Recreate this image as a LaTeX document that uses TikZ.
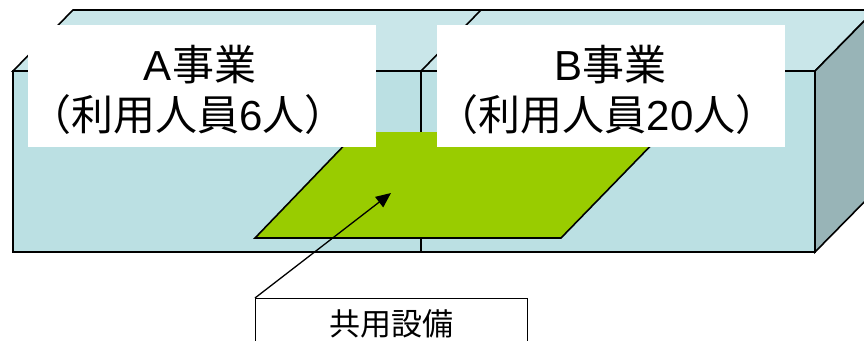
\documentclass[tikz,border=0pt]{standalone}
\usepackage{fontspec}
\setmainfont{Noto Sans CJK JP}
\newfontfamily\latn{Liberation Sans}
\usetikzlibrary{arrows.meta}
\definecolor{frontc}{HTML}{BBE0E3}
\definecolor{topc}{HTML}{C9E6E9}
\definecolor{sidec}{HTML}{98B4B7}
\definecolor{greenc}{HTML}{99CC00}
\begin{document}
\begin{tikzpicture}[x=1pt,y=-1pt,
  edge/.style={draw=black,line width=1.6pt,line join=miter},
  labelbox/.style={fill=white,draw=none,minimum width=348pt,minimum height=122pt,inner sep=0pt},
  bigtext/.style={font=\fontsize{42}{50}\selectfont,inner sep=0pt,anchor=center},
  smalltext/.style={font=\fontsize{31}{37}\selectfont,inner sep=0pt},
  sharedbox/.style={draw=black,line width=1.2pt,fill=white,minimum width=272pt,minimum height=64pt,inner sep=0pt},
  pointer/.style={draw=black,line width=1.3pt,-{Triangle[length=15pt,width=13pt]}}]
\useasboundingbox (0,0) rectangle (864,340);
\clip (0,0) rectangle (864,340);
% top face
\path[edge,fill=topc] (13,71) -- (73,10) -- (875,10) -- (815,71) -- cycle;
\draw[edge] (421,71) -- (481,10);
% side face
\path[edge,fill=sidec] (815,71) -- (875,10) -- (875,191) -- (815,252) -- cycle;
% front face
\path[edge,fill=frontc] (13,71) rectangle (815,252);
\draw[edge,line width=1.3pt] (421,71) -- (421,252);
% shared area
\fill[greenc] (255,238) -- (561,238) -- (664,132) -- (357,132) -- cycle;
\draw[edge] (357,132) -- (255,238) -- (561,238) -- (664,132);
% labels
\node[labelbox] (boxA) at (202,86) {};
\node[labelbox] (boxB) at (611,86) {};
\node[bigtext] (a1) at (200,65) {{\latn A}事業};
\node[bigtext] (a2) at (188,115) {（利用人員{\latn 6}人）};
\node[bigtext] (b1) at (610,65) {{\latn B}事業};
\node[bigtext] (b2) at (607,115) {（利用人員{\latn 20}人）};
% shared facility box
\node[sharedbox,anchor=north west] (shared) at (255,298) {};
\node[smalltext] (sharedtxt) at (391,324) {共用設備};
\coordinate (tgt) at (391,193);
\draw[pointer] (shared.north west) -- (tgt);
\end{tikzpicture}
\end{document}
